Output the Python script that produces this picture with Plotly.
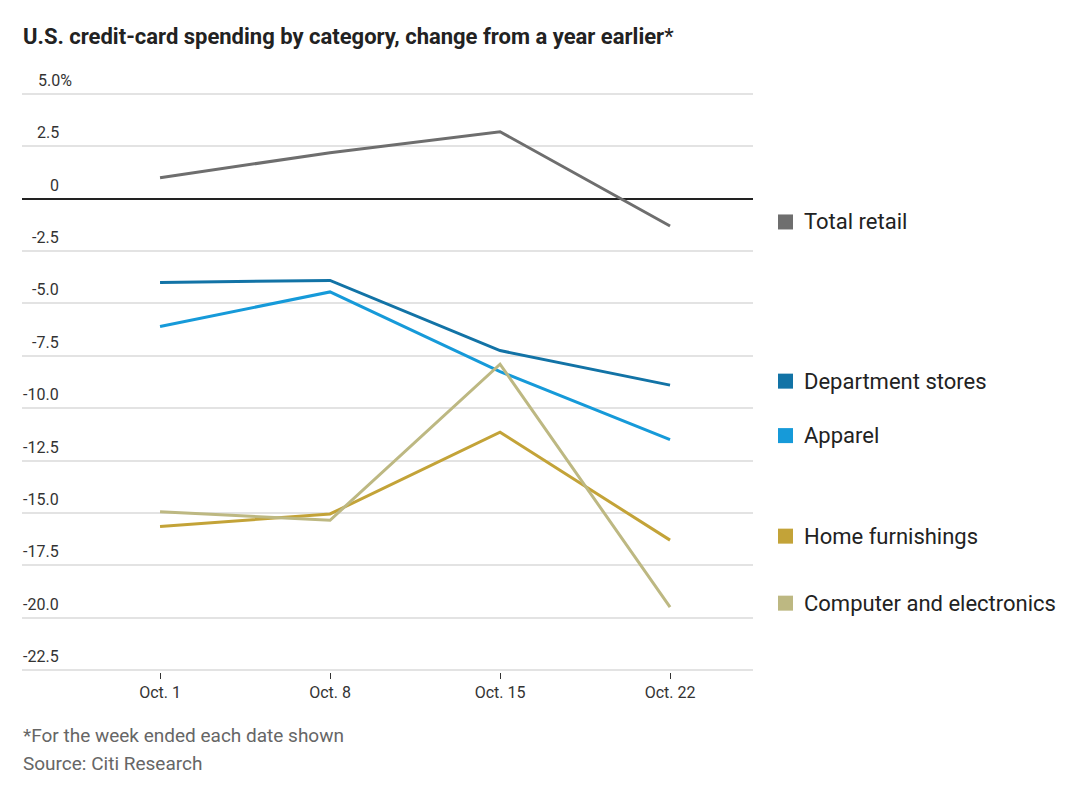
import plotly.graph_objects as go

dates = ["Oct. 1", "Oct. 8", "Oct. 15", "Oct. 22"]
total_retail = [1.0, 2.2, 3.2, -1.3]
department_stores = [-4.0, -3.9, -7.25, -8.9]
apparel = [-6.1, -4.45, -8.25, -11.5]
home_furnishings = [-15.65, -15.05, -11.15, -16.3]
computer_electronics = [-14.95, -15.35, -7.9, -19.5]
y_ticks = [5.0, 2.5, 0, -2.5, -5.0, -7.5, -10.0, -12.5, -15.0, -17.5, -20.0, -22.5]
y_tick_text = ["5.0%", "2.5", "0", "-2.5", "-5.0", "-7.5", "-10.0", "-12.5", "-15.0", "-17.5", "-20.0", "-22.5"]

series = [
    ("Total retail", total_retail, "#6e6e6e"),
    ("Department stores", department_stores, "#1273a6"),
    ("Apparel", apparel, "#169ad9"),
    ("Home furnishings", home_furnishings, "#c3a338"),
    ("Computer and electronics", computer_electronics, "#bdb882"),
]

FONT = "Roboto"
W, H = 1080, 797
L, R, T, B = 22, 327, 92, 125
plot_w = W - L - R
plot_h = H - T - B
pad = 2 / 20.92  # data units for the 2px pad


def ypaper(ypx):
    return (H - B - ypx) / plot_h


def xpaper(xpx):
    return (xpx - L) / plot_w


fig = go.Figure()
for name, vals, col in series:
    fig.add_trace(go.Scatter(x=dates, y=vals, mode="lines", name=name,
                             line=dict(color=col, width=3), showlegend=False,
                             hoverinfo="skip"))

annotations = []
for v, t in zip(y_ticks, y_tick_text):
    px_right = 61 if t != "5.0%" else 74
    annotations.append(dict(x=xpaper(px_right), xref="paper", y=v, yref="y",
                            text=t, showarrow=False, xanchor="right", yanchor="bottom",
                            yshift=2, font=dict(family=FONT, size=16, color="#333333")))

shapes = []
for name, vals, col in series:
    annotations.append(dict(x=xpaper(802), xref="paper", y=vals[-1], yref="y",
                            text=name, showarrow=False, xanchor="left", yanchor="middle",
                            yshift=4, font=dict(family=FONT, size=22, color="#222222")))
    shapes.append(dict(type="rect", xref="paper", yref="y", xsizemode="pixel",
                       ysizemode="pixel", xanchor=xpaper(778), yanchor=vals[-1],
                       x0=0, x1=15, y0=4 - 7.5, y1=4 + 7.5,
                       fillcolor=col, line=dict(width=0)))

annotations.append(dict(x=xpaper(21), xref="paper", y=ypaper(37), yref="paper",
                        xanchor="left", yanchor="middle", showarrow=False,
                        text="<b>U.S. credit-card spending by category, change from a year earlier</b>*",
                        font=dict(family=FONT, size=22, color="#222222")))
annotations.append(dict(x=xpaper(21), xref="paper", y=ypaper(735), yref="paper",
                        xanchor="left", yanchor="middle", showarrow=False,
                        text="*For the week ended each date shown",
                        font=dict(family=FONT, size=19, color="#666666")))
annotations.append(dict(x=xpaper(21), xref="paper", y=ypaper(763), yref="paper",
                        xanchor="left", yanchor="middle", showarrow=False,
                        text="Source: Citi Research",
                        font=dict(family=FONT, size=19, color="#666666")))

fig.update_layout(
    width=W, height=H, autosize=False,
    margin=dict(l=L, r=R, t=T, b=B),
    plot_bgcolor="white", paper_bgcolor="white",
    xaxis=dict(type="category", range=[-0.812, 3.488], showgrid=False, zeroline=False,
               ticks="outside", ticklen=6, tickcolor="#333333", tickwidth=1,
               tickfont=dict(family=FONT, size=16, color="#333333"), showline=False),
    yaxis=dict(range=[-22.5 - pad, 5.0 + pad], tickvals=y_ticks, showticklabels=False,
               showgrid=True, gridcolor="#e3e3e3", gridwidth=1.5,
               zeroline=True, zerolinecolor="#222222", zerolinewidth=1.5),
    annotations=annotations, shapes=shapes,
)

fig.write_html("out.html")
